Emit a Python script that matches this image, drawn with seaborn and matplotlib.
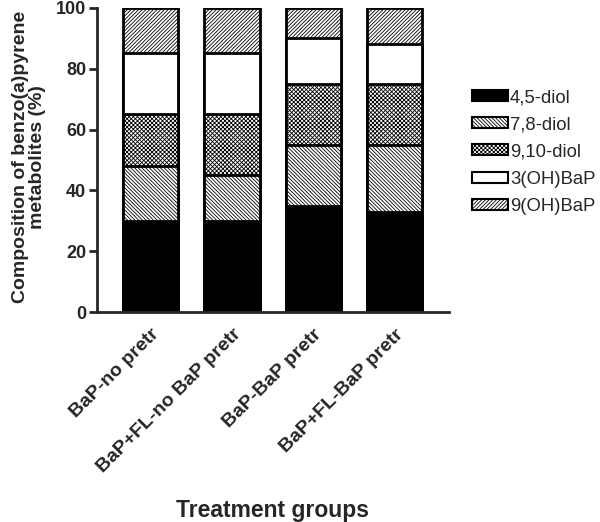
import pandas as pd
import matplotlib.pyplot as plt
import seaborn as sns
from matplotlib.patches import Patch

groups = ["BaP-no pretr", "BaP+FL-no BaP pretr", "BaP-BaP pretr", "BaP+FL-BaP pretr"]
metabolites = ["4,5-diol", "7,8-diol", "9,10-diol", "3(OH)BaP", "9(OH)BaP"]
diol_45 = [30, 30, 35, 33]
diol_78 = [18, 15, 20, 22]
diol_910 = [17, 20, 20, 20]
oh_3 = [20, 20, 15, 13]
oh_9 = [15, 15, 10, 12]

colors = ["black", "white", "white", "white", "white"]
hatches = ["", "\\" * 9, "x" * 8, "", "/" * 9]

df = pd.DataFrame({"group": groups, "4,5-diol": diol_45, "7,8-diol": diol_78,
                   "9,10-diol": diol_910, "3(OH)BaP": oh_3, "9(OH)BaP": oh_9})
cum = df[metabolites].cumsum(axis=1)

sns.set_style("ticks")
plt.rcParams["font.family"] = ["Liberation Sans", "DejaVu Sans"]
plt.rcParams["hatch.linewidth"] = 0.6

fig = plt.figure(figsize=(6, 5.22), dpi=100)
ax = fig.add_axes([0.162, 0.402, 0.586, 0.583])

# draw cumulative totals from the top down so each segment covers the one above
for i in range(len(metabolites) - 1, -1, -1):
    sns.barplot(x=df["group"], y=cum[metabolites[i]], ax=ax, color=colors[i],
                saturation=1, width=0.68, edgecolor="black", linewidth=2,
                hatch=hatches[i])

ax.set_ylim(0, 100)
ax.set_xlim(-0.66, 3.67)
ax.set_yticks([0, 20, 40, 60, 80, 100])
ax.tick_params(axis="y", length=6, width=2, labelsize=13, pad=2)
ax.tick_params(axis="x", length=0, labelsize=14, pad=10)
for lab in ax.get_yticklabels():
    lab.set_fontweight("bold")
ax.set_xticks(range(len(groups)))
ax.set_xticklabels(groups, rotation=45, ha="right", rotation_mode="anchor",
                   fontweight="bold")
for s in ["right", "top"]:
    ax.spines[s].set_visible(False)
for s in ["left", "bottom"]:
    ax.spines[s].set_linewidth(2)

ax.set_ylabel("Composition of benzo(a)pyrene\nmetabolites (%)", fontsize=14,
              fontweight="bold", linespacing=1.05)
ax.yaxis.set_label_coords(-0.145, 0.51)
ax.set_xlabel("Treatment groups", fontsize=16.5, fontweight="bold")
ax.xaxis.set_label_coords(0.5, -0.615)

handles = [Patch(facecolor=colors[i], edgecolor="black", hatch=hatches[i],
                 linewidth=1.5, label=metabolites[i]) for i in range(len(metabolites))]
fig.legend(handles=handles, loc="upper left", bbox_to_anchor=(0.771, 0.847),
           frameon=False, fontsize=13.3, borderpad=0, labelspacing=0.55,
           handlelength=1.95, handleheight=0.54, handletextpad=0.12)

fig.savefig("out.png", dpi=100)
